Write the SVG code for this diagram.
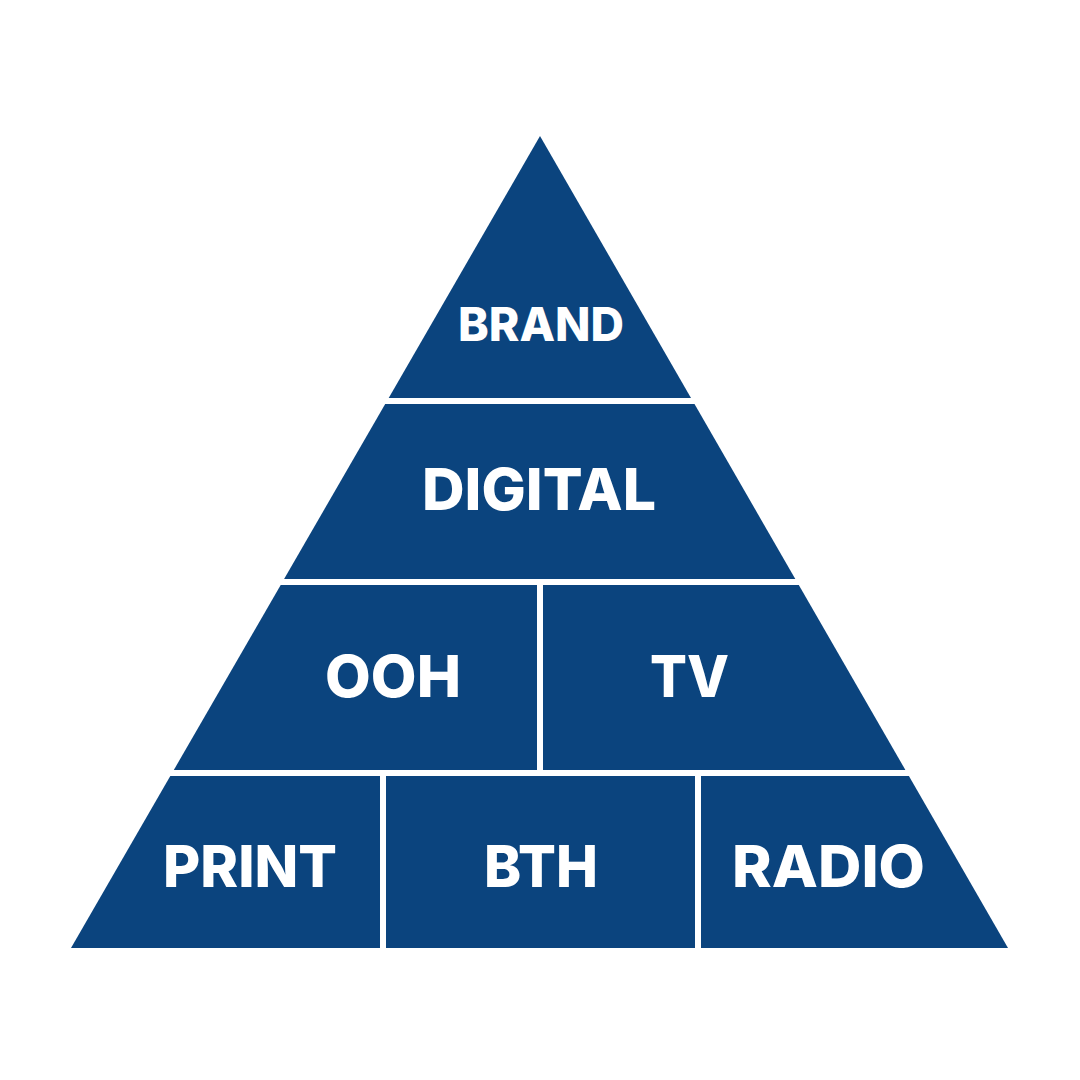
<svg xmlns="http://www.w3.org/2000/svg" width="1080" height="1080" viewBox="0 0 1080 1080">
<style>
.seg{fill:#0B447E}
.lbl{fill:#FFFFFF;font-family:Inter,"DejaVu Sans",sans-serif;font-weight:800;text-anchor:middle}
.sm{font-size:47px}
.lg{font-size:58px}
</style>
<rect width="1080" height="1080" fill="#FFFFFF"/>
<g id="brand">
<polygon class="seg" points="540,136 691,398 388.7,398"/>
<text class="lbl sm" x="541" y="341" textLength="166" lengthAdjust="spacingAndGlyphs">BRAND</text>
</g>
<g id="digital">
<polygon class="seg" points="385.2,404 694.5,404 795.3,579 284.1,579"/>
<text class="lbl lg" x="539" y="510" textLength="234" lengthAdjust="spacingAndGlyphs">DIGITAL</text>
</g>
<g id="ooh">
<polygon class="seg" points="280.7,585 537,585 537,770 173.8,770"/>
<text class="lbl lg" x="393" y="697" textLength="136" lengthAdjust="spacingAndGlyphs">OOH</text>
</g>
<g id="tv">
<polygon class="seg" points="543,585 798.8,585 905.4,770 543,770"/>
<text class="lbl lg" x="689.5" y="697" textLength="79" lengthAdjust="spacingAndGlyphs">TV</text>
</g>
<g id="print">
<polygon class="seg" points="170.3,776 380,776 380,948 71,948"/>
<text class="lbl lg" x="250" y="887" textLength="174" lengthAdjust="spacingAndGlyphs">PRINT</text>
</g>
<g id="bth">
<polygon class="seg" points="386,776 695,776 695,948 386,948"/>
<text class="lbl lg" x="541" y="887" textLength="114" lengthAdjust="spacingAndGlyphs">BTH</text>
</g>
<g id="radio">
<polygon class="seg" points="701,776 908.9,776 1008,948 701,948"/>
<text class="lbl lg" x="828.5" y="887" textLength="193" lengthAdjust="spacingAndGlyphs">RADIO</text>
</g>
<g id="connectors"></g>
</svg>
